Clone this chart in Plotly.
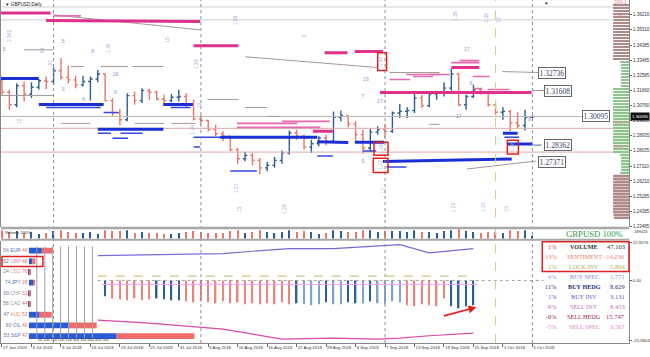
import plotly.graph_objects as go

# ---------------- DATA ----------------
dates = ["2018-06-27","2018-06-28","2018-06-29","2018-07-02","2018-07-03","2018-07-04","2018-07-05","2018-07-06",
         "2018-07-09","2018-07-10","2018-07-11","2018-07-12","2018-07-13","2018-07-16","2018-07-17","2018-07-18",
         "2018-07-19","2018-07-20","2018-07-23","2018-07-24","2018-07-25","2018-07-26","2018-07-27","2018-07-30",
         "2018-07-31","2018-08-01","2018-08-02","2018-08-03","2018-08-06","2018-08-07","2018-08-08","2018-08-09",
         "2018-08-10","2018-08-13","2018-08-14","2018-08-15","2018-08-16","2018-08-17","2018-08-20","2018-08-21",
         "2018-08-22","2018-08-23","2018-08-24","2018-08-27","2018-08-28","2018-08-29","2018-08-30","2018-08-31",
         "2018-09-03","2018-09-04","2018-09-05","2018-09-06","2018-09-07","2018-09-10","2018-09-11","2018-09-12",
         "2018-09-13","2018-09-14","2018-09-17","2018-09-18","2018-09-19","2018-09-20","2018-09-21","2018-09-24",
         "2018-09-25","2018-09-26","2018-09-27","2018-09-28","2018-10-01","2018-10-02","2018-10-03","2018-10-04",
         "2018-10-05"]
opens = [1.3225,1.3155,1.3080,1.3195,1.3145,1.3185,1.3225,1.3220,1.3285,1.3245,1.3230,1.3200,1.3220,1.3235,1.3265,1.3105,
         1.3030,1.2990,1.3135,1.3105,1.3165,1.3155,1.3115,1.3105,1.3125,1.3130,1.3085,1.2995,1.2985,1.2930,1.2905,1.2890,
         1.2810,1.2755,1.2775,1.2745,1.2700,1.2715,1.2745,1.2790,1.2910,1.2890,1.2825,1.2845,1.2880,1.2860,1.3005,1.3015,
         1.2965,1.2900,1.2820,1.2915,1.2930,1.2920,1.3030,1.3040,1.3045,1.3120,1.3075,1.3145,1.3150,1.3180,1.3265,1.3080,
         1.3130,1.3170,1.3155,1.3080,1.3035,1.3040,1.2970,1.2955,1.3005]
highs = [1.3250,1.3170,1.3210,1.3220,1.3215,1.3235,1.3250,1.3305,1.3362,1.3315,1.3255,1.3255,1.3250,1.3290,1.3270,1.3120,
         1.3055,1.3150,1.3160,1.3180,1.3175,1.3165,1.3140,1.3145,1.3170,1.3150,1.3110,1.3020,1.2990,1.2960,1.2920,1.2895,
         1.2820,1.2795,1.2790,1.2760,1.2735,1.2765,1.2805,1.2925,1.2930,1.2900,1.2870,1.2890,1.2900,1.3040,1.3045,1.3015,
         1.2980,1.2930,1.2935,1.2950,1.2960,1.3040,1.3085,1.3065,1.3145,1.3140,1.3160,1.3160,1.3215,1.3298,1.3270,1.3140,
         1.3200,1.3180,1.3160,1.3090,1.3065,1.3050,1.3035,1.3050,1.3015]
lows = [1.3140,1.3050,1.3065,1.3100,1.3120,1.3170,1.3175,1.3200,1.3230,1.3210,1.3180,1.3190,1.3105,1.3215,1.3100,1.3010,
        1.2957,1.2980,1.3080,1.3090,1.3110,1.3105,1.3080,1.3095,1.3100,1.3060,1.2985,1.2960,1.2920,1.2890,1.2860,1.2800,
        1.2725,1.2740,1.2715,1.2662,1.2680,1.2700,1.2725,1.2780,1.2870,1.2810,1.2790,1.2830,1.2835,1.2850,1.2980,1.2945,
        1.2865,1.2785,1.2800,1.2900,1.2880,1.2910,1.3000,1.3000,1.3030,1.3060,1.3065,1.3110,1.3130,1.3165,1.3070,1.3050,
        1.3120,1.3140,1.3070,1.3020,1.2990,1.2922,1.2940,1.2925,1.3000]
closes = [1.3155,1.3080,1.3195,1.3145,1.3185,1.3225,1.3220,1.3285,1.3245,1.3230,1.3200,1.3220,1.3235,1.3265,1.3105,1.3030,
          1.2990,1.3135,1.3105,1.3165,1.3155,1.3115,1.3105,1.3125,1.3130,1.3085,1.2995,1.2985,1.2930,1.2905,1.2890,1.2810,
          1.2755,1.2775,1.2745,1.2700,1.2715,1.2745,1.2790,1.2910,1.2890,1.2825,1.2845,1.2880,1.2860,1.3005,1.3015,1.2965,
          1.2900,1.2820,1.2915,1.2930,1.2920,1.3030,1.3040,1.3045,1.3120,1.3075,1.3145,1.3150,1.3180,1.3265,1.3080,1.3130,
          1.3170,1.3155,1.3080,1.3035,1.3040,1.2970,1.2955,1.3005,1.30095]
volume_ticks = [0.9,0.7,0.8,0.6,0.7,0.5,0.6,0.8,0.9,0.7,0.6,0.6,0.7,0.5,0.9,0.8,0.8,0.9,0.6,0.7,0.6,0.6,0.5,0.5,
                0.6,0.7,0.8,0.7,0.6,0.6,0.6,0.8,0.9,0.6,0.7,0.9,0.7,0.6,0.7,0.9,0.7,0.8,0.7,0.5,0.6,0.9,0.8,0.7,
                0.7,0.9,0.9,0.7,0.8,0.8,0.8,0.7,0.9,0.7,0.7,0.6,0.8,0.9,1.0,0.8,0.7,0.6,0.7,0.7,0.6,0.9,0.8,0.9,0.3]
tick_idx = [0,4,8,12,16,20,24,28,32,36,40,44,48,52,56,60,64,68,72]
tick_labels = ["27 Jun 2018","3 Jul 2018","9 Jul 2018","13 Jul 2018","19 Jul 2018","25 Jul 2018","31 Jul 2018",
               "6 Aug 2018","10 Aug 2018","16 Aug 2018","22 Aug 2018","28 Aug 2018","3 Sep 2018","7 Sep 2018",
               "13 Sep 2018","19 Sep 2018","25 Sep 2018","1 Oct 2018","5 Oct 2018"]
price_ticks = [1.36210,1.35310,1.34385,1.33485,1.32585,1.31660,1.30760,1.29835,1.28935,1.28035,1.27110,1.26210,
               1.25285,1.24385,1.23485]
current_price = 1.30095
level_prices = [1.32736, 1.31608, 1.28362, 1.27371]
level_pos = [74.6, 75.5, 75.5, 74.6]

# separators (bar index)
sep_dotted = [7, 27, 52, 72]
sep_yellow = [67]

# level segments: (start idx, end idx, start price, end price)
mag_thick = [(-0.2,6.6,1.3633,1.3633),(6.0,26.9,1.3588,1.3582),(26.0,32.1,1.3435,1.3435),(43.8,46.9,1.3393,1.3393),
             (47.9,51.7,1.3401,1.3401),(51.3,71.9,1.3154,1.3154),(61.0,64.8,1.3304,1.3304),(42.2,44.9,1.2920,1.2920)]
mag_thin = [(7.0,10.7,1.3615,1.3615),(61.0,64.8,1.3334,1.3334),(62.1,64.8,1.3346,1.3346),(58.0,60.8,1.3262,1.3262),
            (63.9,66.2,1.3250,1.3250),(63.9,65.2,1.3178,1.3178),(65.9,68.9,1.3172,1.3172),(52.6,55.4,1.3232,1.3232),
            (54.9,59.4,1.3262,1.3262),(55.8,58.5,1.3250,1.3250),(31.9,40.1,1.2968,1.2968),(31.9,43.2,1.2944,1.2944),
            (38.0,44.5,1.2980,1.2980)]
blue_thick = [(-0.2,5.0,1.3238,1.3238),(5.0,13.8,1.3082,1.3082),(21.9,25.9,1.3082,1.3082),(13.0,21.9,1.2932,1.2932),
              (29.6,42.8,1.2884,1.2884),(42.8,47.0,1.2858,1.2852),(47.9,51.9,1.2855,1.2855),(51.7,69.2,1.2738,1.2753),
              (68.0,70.0,1.2908,1.2908),(68.6,72.0,1.2843,1.2843)]
blue_thin = [(6.0,13.4,1.3064,1.3064),(13.8,15.8,1.3034,1.3034),(22.9,25.6,1.3064,1.3064),(13.0,14.8,1.2908,1.2908),
             (16.1,19.1,1.2908,1.2908),(15.0,17.1,1.2878,1.2878),(26.0,29.6,1.2884,1.2884),(26.0,26.9,1.2825,1.2825),
             (31.0,34.6,1.2681,1.2681),(42.8,44.9,1.2771,1.2771),(49.0,50.8,1.2801,1.2801),(52.2,54.9,1.2705,1.2705),
             (68.2,70.2,1.2884,1.2884)]
blue_dashdot = [(72.0,73.6,1.2837,1.2837)]
gray_thin = [(3.0,7.0,1.3411,1.3411),(9.3,11.1,1.3310,1.3310),(13.4,17.1,1.3310,1.3310),(17.7,21.9,1.3310,1.3310),
             (-0.2,7.0,1.3136,1.3136),(27.9,32.1,1.3112,1.3112),(33.0,36.0,1.3064,1.3064),(7.0,26.9,1.3621,1.3531),
             (33.0,51.0,1.3369,1.3304),(52.6,59.4,1.3274,1.3274),(67.9,73.0,1.3280,1.3274),(71.9,73.6,1.3166,1.3166),
             (58.0,59.4,1.2962,1.2962),(63.1,72.5,1.2693,1.2741),(8.0,12.0,1.2968,1.2968),(18.0,22.0,1.2968,1.2968),
             (23.0,26.3,1.2968,1.2968),(36.0,37.8,1.3010,1.3010)]
full_levels = [1.3669, 1.3591, 1.2938, 1.2795]
full_colors = ["#d0d0d0", "#d0d0d0", "#dcaaaa", "#dcaaaa"]
zone_labels = ["20% 1", "20% 1", "50% 0", "80% 1"]

red_boxes = [(51.0,52.2,1.3393,1.3286),(50.5,52.4,1.2855,1.2776),(50.4,52.4,1.2758,1.2672),(68.6,70.1,1.2867,1.2783)]

# volume profile (right edge)
profile_top = 1.3680
profile_step = 0.0018
profile_len = [100,100,98,100,100,97,100,100,100,99,100,100,98,100,100,100,97,100,100,
               55,50,50,48,50,50,52,50,50,
               100,98,100,100,100,99,100,100,100,100,98,100,100,100,100,99,100,100,100,98,100,100,
               55,50,50,50,48,50,55,
               100,100,98,100,100,100,99,100,100,100,98,100,100,97,95]
profile_kind = ["b"]*19 + ["g"]*9 + ["g"]*22 + ["g"]*7 + ["b"]*15

# lower indicator panel
hist_start = 14
hist_vals = [-9.6,-10.8,-11.4,-12.0,-10.8,-12.0,-11.4,-10.8,-11.4,-12.0,-12.0,-12.6,-13.2,-12.6,-13.2,-13.8,
             -12.6,-13.8,-13.2,-14.4,-13.8,-14.4,-13.8,-14.4,-13.2,-14.4,-13.8,-14.4,-15.0,-14.4,-13.2,-14.4,
             -14.4,-13.2,-13.8,-13.8,-12.6,-13.8,-14.4,-12.6,-13.2,-15.0,-15.6,-14.4,-15.0,-15.6,-10.8,-15.6,
             -16.8,-15.6,-15.0]
hist_kind = ["B"] + ["R"]*6 + ["B"]*4 + ["R"]*15 + ["B"] + ["L"]*3 + ["B"] + ["L"]*2 + ["B"]*2 + ["L"] + ["B"] + \
            ["L"]*4 + ["R"]*6 + ["B"]*4
purple_x = [13, 30, 34, 39, 45, 54, 58, 64]
purple_y = [15.0, 16.2, 17.6, 19.2, 19.2, 21.6, 16.6, 19.2]
magenta_x = [13, 20, 30, 38, 45, 51, 54, 58, 64]
magenta_y = [-24.0, -25.8, -29.4, -35.4, -34.8, -35.4, -34.8, -33.4, -31.8]
olive_level = 2.6
orange_level = -2.4

# currency table
cur_names = ["EUR","GBP","USD","JPY","CHF","CAD","AUD","OIL","S&P"]
cur_long = [54, 52, 24, 74, 69, 56, 47, 60, 53]
cur_total = [151, 41, 13, 35, 7, 7, 144, 427, 1043]
cur_colors = ["#5a78b8","#e890a8","#e8a0a0","#4a6fb0","#9a9a9a","#9a9a9a","#e8a070","#6a7aa0","#5a80c0"]
scale_lines = [50,100,150,200,250,300,350,400]
scale_labels = "50 100 150 200 250 300 350 400 450 500"

# right table
tbl_pct = ["1%","-13%","1%","4%","11%","1%","-9%","-0%","-5%"]
tbl_name = ["VOLUME","SENTIMENT","LOCK INV","BUY SPEC","BUY HEDG","BUY INV","SELL INV","SELL HEDG","SELL SPEC"]
tbl_val = ["47.103","-14.236","5.804","1.771","8.629","3.131","8.453","15.747","3.567"]
tbl_color = ["#333333","#e8806a","#b8a848","#8c8ce0","#1f2f80","#6060cc","#c070b8","#a0205a","#e080c8"]

# scattered chart numbers: (idx, price, text)
rot_labels = [(1.1,1.3495,"1.342"),(5.6,1.3411,"86"),(6.6,1.3334,"21"),(14.5,1.3423,"1.34"),(22.5,1.3471,"15"),
              (26.4,1.3328,"1.33"),(26.8,1.3082,"12"),(31.8,1.3591,"1.36"),(41.1,1.3495,"2"),(61.6,1.3615,"1.35"),
              (65.8,1.3603,"1.35"),(67.4,1.3591,"12"),(2.4,1.2980,"12"),(25.8,1.2932,"1.29"),(31.9,1.2579,"1.27"),
              (32.3,1.2453,"15"),(38.4,1.2453,"1.26"),(51.8,1.2561,"12"),(61.4,1.2465,"1.25"),(65.4,1.2465,"1.25"),
              (68.5,1.2453,"15"),(51.4,1.3340,"1.33"),(51.4,1.2813,"1.28"),(51.4,1.2718,"1.27"),(69.3,1.2825,"1.28")]
num_labels = [(0.3,1.3411,"5"),(8.3,1.3459,"5"),(12.3,1.3399,"8"),(8.3,1.3172,"3"),(15.4,1.3262,"18"),
              (11.1,1.3112,"6"),(15.4,1.3154,"8"),(49.4,1.3232,"18"),(49.0,1.3130,"7"),(49.0,1.2735,"9"),
              (63.1,1.3411,"17"),(51.3,1.3100,"17"),(63.7,1.3208,"6"),(62.0,1.3010,"17"),(71.6,1.2992,"8")]

# ---------------- STYLE / LAYOUT HELPERS ----------------
W, H, PLOT_W = 650, 357, 630
UP, DN = "#2e5f93", "#e5776d"
def PX(x): return x / PLOT_W
def PY(y): return (H - y) / H

xi = list(range(len(dates)))

def seg_xy(segs):
    xs, ys = [], []
    for x0, x1, p0, p1 in segs:
        xs += [x0, x1, None]
        ys += [p0, p1, None]
    return xs, ys

fig = go.Figure()

for lv, c in zip(full_levels, full_colors):
    fig.add_trace(go.Scatter(x=[-0.2, 85.2], y=[lv, lv], mode="lines", line=dict(color=c, width=1),
                             hoverinfo="skip", xaxis="x", yaxis="y"))
fig.add_trace(go.Scatter(x=[-0.2, 80.0], y=[current_price, current_price], mode="lines",
                         line=dict(color="#b8b8b8", width=1), hoverinfo="skip"))
gx, gy = seg_xy(gray_thin)
fig.add_trace(go.Scatter(x=gx, y=gy, mode="lines", line=dict(color="#a89898", width=1), hoverinfo="skip"))

fig.add_trace(go.Ohlc(x=xi, open=opens, high=highs, low=lows, close=closes,
                      increasing=dict(line=dict(color=UP, width=1.4)),
                      decreasing=dict(line=dict(color=DN, width=1.4)),
                      tickwidth=0.3, hoverinfo="skip", xaxis="x", yaxis="y"))

for segs, col, w, dash in [(mag_thin, "#e36aae", 1.6, "solid"), (mag_thick, "#e0308c", 3, "solid"),
                           (blue_thin, "#3346e0", 1.5, "solid"), (blue_thick, "#1a2fd6", 3, "solid"),
                           (blue_dashdot, "#6a86b8", 1.2, "dashdot")]:
    sx, sy = seg_xy(segs)
    fig.add_trace(go.Scatter(x=sx, y=sy, mode="lines", line=dict(color=col, width=w, dash=dash),
                             hoverinfo="skip"))

fig.add_trace(go.Scatter(x=[n[0] for n in num_labels], y=[n[1] for n in num_labels], mode="text",
                         text=[n[2] for n in num_labels], textfont=dict(size=5, color="#8f8fd0",
                         family="Liberation Sans"), hoverinfo="skip"))

profile_levels = [round(profile_top - profile_step * k, 5) for k in range(len(profile_len))]
fig.add_trace(go.Bar(y=profile_levels, x=profile_len, orientation="h", width=0.00105,
                     marker=dict(color=["#b08a8a" if k == "b" else "#8cc48c" for k in profile_kind], line_width=0),
                     xaxis="x3", yaxis="y", hoverinfo="skip"))

fig.add_trace(go.Bar(x=xi, y=volume_ticks, width=0.16,
                     marker=dict(color=[UP if c >= o else DN for o, c in zip(opens, closes)], line_width=0),
                     xaxis="x", yaxis="y2", hoverinfo="skip"))

hist_x = list(range(hist_start, hist_start + len(hist_vals)))
kind_col = {"R": "#e8857c", "B": "#2e5f93", "L": "#7ea4cc"}
fig.add_trace(go.Scatter(x=[13, 73.5], y=[0, 0], mode="lines", line=dict(color="#a0a0a0", width=1, dash="dot"),
                         xaxis="x", yaxis="y3", hoverinfo="skip"))
fig.add_trace(go.Scatter(x=[13, 64], y=[olive_level, olive_level], mode="lines",
                         line=dict(color="#c8b860", width=1, dash="dash"), xaxis="x", yaxis="y3", hoverinfo="skip"))
fig.add_trace(go.Bar(x=hist_x, y=hist_vals, width=0.2,
                     marker=dict(color=[kind_col[k] for k in hist_kind], line_width=0),
                     xaxis="x", yaxis="y3", hoverinfo="skip"))
fig.add_trace(go.Scatter(x=hist_x, y=[orange_level] * len(hist_x), mode="markers",
                         marker=dict(symbol="line-ew-open", size=5, line=dict(color="#e89a6a", width=1)),
                         xaxis="x", yaxis="y3", hoverinfo="skip"))
fig.add_trace(go.Scatter(x=purple_x, y=purple_y, mode="lines", line=dict(color="#7a6ad8", width=1.2),
                         xaxis="x", yaxis="y3", hoverinfo="skip"))
fig.add_trace(go.Scatter(x=magenta_x, y=magenta_y, mode="lines", line=dict(color="#d84aa8", width=1.2),
                         xaxis="x", yaxis="y3", hoverinfo="skip"))

rows = list(range(len(cur_names)))
for v in scale_lines:
    fig.add_trace(go.Scatter(x=[v, v], y=[-0.4, 8.2], mode="lines", line=dict(color="#a0a0a0", width=1),
                             xaxis="x2", yaxis="y4", hoverinfo="skip"))
long_u = [t * p / 100 for t, p in zip(cur_total, cur_long)]
short_u = [t - l for t, l in zip(cur_total, long_u)]
fig.add_trace(go.Bar(y=rows, x=long_u, base=0, orientation="h", width=0.55,
                     marker=dict(color="#2a5bd7", line_width=0), xaxis="x2", yaxis="y4", hoverinfo="skip"))
fig.add_trace(go.Bar(y=rows, x=short_u, base=long_u, orientation="h", width=0.55,
                     marker=dict(color="#f26b6b", line_width=0), xaxis="x2", yaxis="y4", hoverinfo="skip"))
row_text = ["<span style='color:#6a7a9a'>%d</span> <span style='color:%s'>%s</span> "
            "<span style='color:#e07070'>%d</span>" % (l, c, n, 100 - l)
            for l, c, n in zip(cur_long, cur_colors, cur_names)]
fig.add_trace(go.Scatter(x=[-8] * len(rows), y=rows, mode="text", text=row_text, textposition="middle left",
                         textfont=dict(size=5, family="Liberation Sans"), xaxis="x2", yaxis="y4",
                         hoverinfo="skip"))

# ---------------- SHAPES / ANNOTATIONS ----------------
shapes = []
for s in sep_dotted:
    shapes.append(dict(type="line", xref="x", yref="paper", x0=s, x1=s, y0=PY(345), y1=1,
                       line=dict(color="#8c8c8c", width=1, dash="dot")))
for s in sep_yellow:
    shapes.append(dict(type="line", xref="x", yref="paper", x0=s, x1=s, y0=PY(345), y1=1,
                       line=dict(color="#d8cc80", width=1, dash="dash")))
for (a, b, p0, p1) in red_boxes:
    shapes.append(dict(type="rect", xref="x", yref="y", x0=a, x1=b, y0=p1, y1=p0,
                       line=dict(color="#e02020", width=1.5)))
for y0, y1 in [(228, 230.5), (240, 242)]:
    shapes.append(dict(type="rect", xref="paper", yref="paper", x0=0, x1=1, y0=PY(y1), y1=PY(y0),
                       fillcolor="#a8a8a8", line_width=0))
shapes.append(dict(type="rect", xref="paper", yref="paper", x0=PX(543), x1=PX(630), y0=PY(273), y1=PY(243),
                   line=dict(color="#e02020", width=1.5)))
shapes.append(dict(type="rect", xref="paper", yref="paper", x0=PX(1), x1=PX(42), y0=PY(268), y1=PY(258),
                   line=dict(color="#e02020", width=1.5)))

def A(**kw):
    kw.setdefault("showarrow", False)
    kw.setdefault("xanchor", "center")
    kw.setdefault("yanchor", "middle")
    return kw

ann = []
ann.append(A(xref="paper", yref="paper", x=PX(2), y=PY(5), text="▼ GBPUSD,Daily", xanchor="left",
             font=dict(size=4.6, color="#222", family="Liberation Sans")))
ann.append(A(xref="paper", yref="paper", x=PX(547), y=PY(3), text="▼", font=dict(size=4.5, color="#222")))
ann.append(A(xref="paper", yref="paper", x=PX(2), y=PY(234), text="Volume 100%", xanchor="left",
             font=dict(size=4.2, color="#333", family="Liberation Sans")))
ann.append(A(xref="paper", yref="paper", x=PX(633), y=PY(233), text="189023", xanchor="left",
             font=dict(size=4, color="#333", family="Liberation Sans")))
for p, xpos in zip(level_prices, level_pos):
    ann.append(A(xref="x", yref="y", x=xpos, y=p, text="%.5f" % p,
                 font=dict(size=7.5, color="#3a3a6a", family="Liberation Serif"),
                 bgcolor="white", bordercolor="#666", borderwidth=1, borderpad=0.5))
ann.append(A(xref="x", yref="y", x=80.6, y=current_price, text="%.5f" % current_price,
             font=dict(size=7.5, color="#3a3a6a", family="Liberation Serif"),
             bgcolor="white", bordercolor="#666", borderwidth=1, borderpad=0.5))
ann.append(A(xref="paper", yref="y", x=PX(631), y=current_price, text="%.5f" % current_price, xanchor="left",
             font=dict(size=4.4, color="white", family="Liberation Sans"), bgcolor="#111"))
for lv, lab in zip(full_levels, zone_labels):
    ann.append(A(xref="paper", yref="y", x=1, y=lv, text=lab, xanchor="right", yanchor="bottom",
                 font=dict(size=4.5, color="#d08888", family="Liberation Sans")))
for (a, p, t) in rot_labels:
    ann.append(A(xref="x", yref="y", x=a, y=p, text=t, textangle=-90,
                 font=dict(size=4.8, color="#b0a0d8" if p > 1.30 else "#9fb2d8", family="Liberation Sans")))
ann.append(A(xref="paper", yref="paper", x=PX(595), y=PY(235), text="GBPUSD 100%",
             font=dict(size=8.7, color="#2e9a3e", family="Liberation Serif")))
for k in range(len(tbl_name)):
    yy = PY(248 + 10 * k)
    pc = "#c04848" if k == 0 else tbl_color[k]
    bold = tbl_name[k] in ("VOLUME", "BUY HEDG")
    nm = "<b>%s</b>" % tbl_name[k] if bold else tbl_name[k]
    ann.append(A(xref="paper", yref="paper", x=PX(560), y=yy, text=tbl_pct[k], xanchor="right",
                 font=dict(size=6.3, color=pc, family="Liberation Serif")))
    ann.append(A(xref="paper", yref="paper", x=PX(585), y=yy, text=nm,
                 font=dict(size=6.2, color=tbl_color[k], family="Liberation Serif")))
    ann.append(A(xref="paper", yref="paper", x=PX(628), y=yy, text=tbl_val[k], xanchor="right",
                 font=dict(size=6.5, color="#333" if k == 0 else tbl_color[k], family="Liberation Serif")))
ann.append(A(xref="paper", yref="paper", x=PX(35), y=PY(342), text=scale_labels, xanchor="left",
             font=dict(size=3.8, color="#333", family="Liberation Sans")))
ann.append(dict(xref="paper", yref="paper", x=PX(477), y=PY(309), ax=-34, ay=9, text="", showarrow=True,
                arrowhead=2, arrowsize=1, arrowwidth=1.6, arrowcolor="#e02020"))

# ---------------- LAYOUT ----------------
fig.update_layout(
    width=W, height=H, margin=dict(l=0, r=W - PLOT_W, t=0, b=0),
    paper_bgcolor="white", plot_bgcolor="rgba(0,0,0,0)", showlegend=False, hovermode=False,
    barmode="overlay", shapes=shapes, annotations=ann,
    xaxis=dict(domain=[0, 1], range=[-0.135, 85.115], anchor="y3", tickvals=tick_idx, ticktext=tick_labels,
               tickangle=0, ticklabelposition="outside right",
               tickfont=dict(size=4.3, color="#333", family="Liberation Sans"),
               ticks="outside", ticklen=3, tickcolor="#666", showline=True, linecolor="#888",
               showgrid=False, zeroline=False, rangeslider=dict(visible=False)),
    xaxis2=dict(overlaying="x", anchor="y4", range=[-175.9, 3781.2], visible=False),
    xaxis3=dict(overlaying="x", anchor="y", range=[3937.5, 0], visible=False),
    yaxis=dict(domain=[PY(228), 1], range=[1.23456, 1.37108], side="right", tickvals=price_ticks,
               ticktext=["%.5f" % v for v in price_ticks], tickfont=dict(size=4.5, color="#333",
               family="Liberation Sans"), ticks="outside", ticklen=2, tickcolor="#666",
               showline=True, linecolor="#888", mirror=True, showgrid=False, zeroline=False),
    yaxis2=dict(domain=[PY(240), PY(230)], range=[0, 1.05], visible=False),
    yaxis3=dict(domain=[PY(345), PY(242)], range=[-37.8, 24], side="right", tickvals=[22.8, 0, -36],
                ticktext=["22.9276", "0.00", "-25.9604"], tickfont=dict(size=4.3, color="#333",
                family="Liberation Sans"), ticks="outside", ticklen=2, tickcolor="#666",
                showline=True, linecolor="#888", mirror=True, showgrid=False, zeroline=False),
    yaxis4=dict(overlaying="y3", range=[8.65, -0.93], visible=False),
)

fig.write_html("out.html")
